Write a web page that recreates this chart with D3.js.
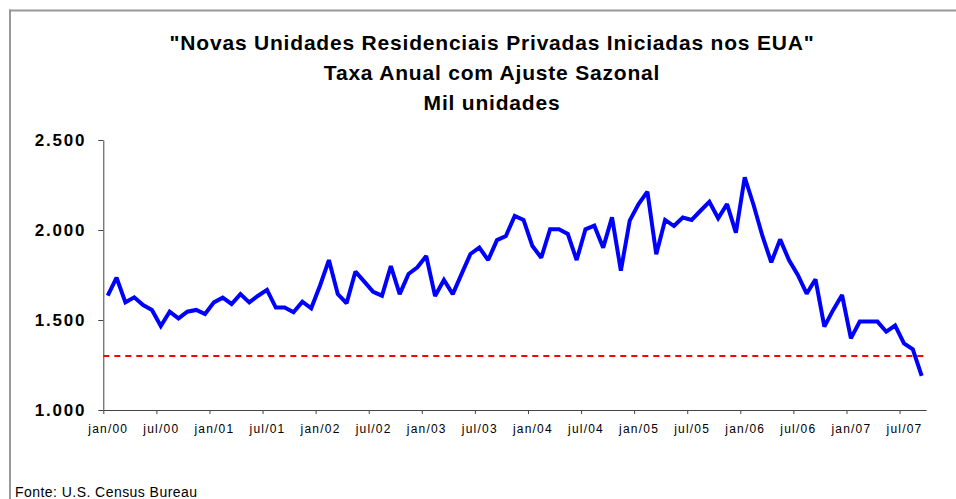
<!DOCTYPE html>
<html>
<head>
<meta charset="utf-8">
<script src="https://cdn.jsdelivr.net/npm/d3@7"></script>
<style>
  html, body { margin: 0; padding: 0; background: #fff; }
  svg { display: block; }
  text { font-family: Arial, "Liberation Sans", sans-serif; }
</style>
</head>
<body>
<svg id="chart" width="956" height="499"></svg>
<script>
// ---- data ----
const titleLines = ['"Novas Unidades Residenciais Privadas Iniciadas nos EUA"', 'Taxa Anual com Ajuste Sazonal', 'Mil unidades'];
const sourceText = 'Fonte: U.S. Census Bureau';
const months = ['jan','fev','mar','abr','mai','jun','jul','ago','set','out','nov','dez'];
const years = ['00','01','02','03','04','05','06','07'];
const categories = [];
years.forEach(y => months.forEach(m => categories.push(m + '/' + y)));
categories.length = 93; // jan/00 .. set/07
const tickLabels = ['jan/00','jul/00','jan/01','jul/01','jan/02','jul/02','jan/03','jul/03','jan/04','jul/04','jan/05','jul/05','jan/06','jul/06','jan/07','jul/07'];
const starts = [
  1635, 1735, 1598, 1626, 1583, 1556, 1467, 1546, 1509, 1546, 1556, 1533,
  1598, 1624, 1589, 1644, 1598, 1635, 1667, 1569, 1569, 1543, 1602, 1565,
  1692, 1833, 1644, 1593, 1769, 1713, 1657, 1635, 1800, 1644, 1756, 1793,
  1856, 1633, 1722, 1644, 1756, 1867, 1902, 1833, 1944, 1967, 2078, 2056,
  1911, 1846, 2004, 2004, 1978, 1833, 2004, 2024, 1902, 2070, 1774, 2052,
  2144, 2213, 1865, 2056, 2022, 2069, 2056, 2107, 2157, 2065, 2144, 1985,
  2293, 2139, 1967, 1820, 1948, 1833, 1750, 1646, 1726, 1463, 1556, 1639,
  1398, 1491, 1491, 1491, 1435, 1469, 1370, 1337, 1189
];
const referenceLevel = 1300;
const yTicks = [1000, 1500, 2000, 2500];

// ---- layout ----
const svg = d3.select('#chart');
const plot = { left: 103.3, right: 926.1, top: 140, bottom: 410 };

// frame
svg.append('line').attr('x1', 9).attr('x2', 956).attr('y1', 10.5).attr('y2', 10.5)
  .attr('stroke', '#999').attr('stroke-width', 2);
svg.append('line').attr('x1', 10).attr('x2', 10).attr('y1', 9.5).attr('y2', 499)
  .attr('stroke', '#999').attr('stroke-width', 2);

// title
svg.append('g').selectAll('text').data(titleLines).join('text')
  .attr('x', 492).attr('y', (d, i) => 50 + i * 30)
  .attr('text-anchor', 'middle')
  .attr('font-size', 21).attr('font-weight', 'bold').attr('fill', '#000')
  .style('letter-spacing', '0.8px')
  .text(d => d);

// scales
const x = d3.scaleBand().domain(categories).range([plot.left, plot.right]).paddingInner(0).paddingOuter(0);
const xEdge = d3.scaleLinear().domain([0, categories.length]).range([plot.left, plot.right]);
const y = d3.scaleLinear().domain([1000, 2500]).range([plot.bottom, plot.top]);
const fmt = d3.formatLocale({ decimal: ',', thousands: '.', grouping: [3], currency: ['R$', ''] }).format(',');

// y axis
const yAxis = svg.append('g').attr('transform', `translate(${plot.left},0)`)
  .call(d3.axisLeft(y).tickValues(yTicks).tickFormat(fmt).tickSizeOuter(0).tickSizeInner(5).tickPadding(12));
yAxis.select('.domain').attr('stroke', '#444');
yAxis.selectAll('.tick line').attr('stroke', '#444');
yAxis.selectAll('text').attr('font-size', 17).attr('font-weight', 'bold').attr('fill', '#000')
  .attr('font-family', 'Arial, "Liberation Sans", sans-serif').style('letter-spacing', '1.8px');

// x axis
const tickIdx = tickLabels.map(l => categories.indexOf(l));
const xAxis = svg.append('g').attr('transform', `translate(0,${plot.bottom})`)
  .call(d3.axisBottom(xEdge).tickValues(tickIdx).tickFormat((d, i) => tickLabels[i])
    .tickSizeOuter(0).tickSizeInner(4).tickPadding(10));
xAxis.select('.domain').attr('stroke', '#444');
xAxis.selectAll('.tick line').attr('stroke', '#444');
xAxis.selectAll('text').attr('font-size', 12).attr('fill', '#000')
  .attr('font-family', 'Arial, "Liberation Sans", sans-serif').style('letter-spacing', '1.2px')
  .attr('dx', x.bandwidth() / 2);

// reference dashed line
svg.append('line')
  .attr('x1', plot.left).attr('x2', plot.right)
  .attr('y1', y(referenceLevel)).attr('y2', y(referenceLevel))
  .attr('stroke', '#ff0000').attr('stroke-width', 2).attr('stroke-dasharray', '6,5');

// series line
const line = d3.line().x((d, i) => x(categories[i]) + x.bandwidth() / 2).y(d => y(d));
svg.append('path').datum(starts)
  .attr('d', line).attr('fill', 'none')
  .attr('stroke', '#0000ff').attr('stroke-width', 4).attr('stroke-linejoin', 'miter').attr('stroke-miterlimit', 2);

// source
svg.append('text').attr('x', 15).attr('y', 497)
  .attr('font-size', 14).attr('fill', '#000').style('letter-spacing', '0.45px')
  .text(sourceText);
</script>
</body>
</html>
